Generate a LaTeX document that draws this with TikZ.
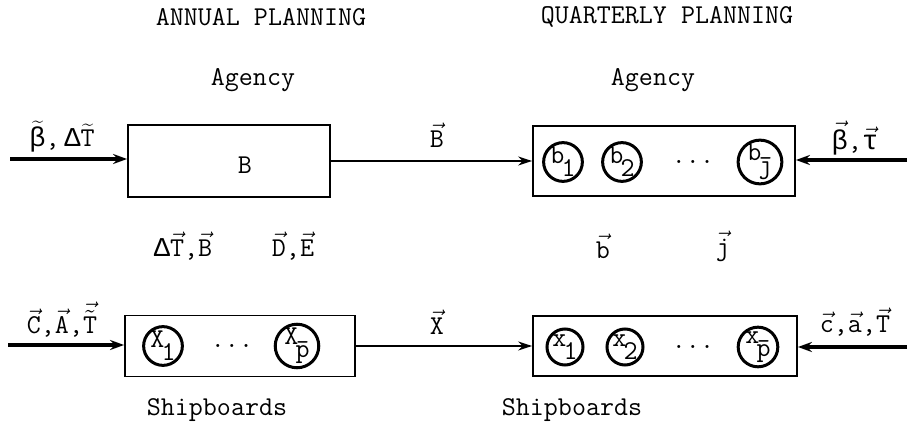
\documentclass[tikz,border=0pt]{standalone}
\usepackage{fontspec}
\newfontfamily\gk{Liberation Mono}
\usetikzlibrary{arrows.meta}
\newcommand\vv[1]{\ensuremath{\vec{\mbox{#1}}}}
\newcommand\tl[1]{\ensuremath{\widetilde{\mbox{#1}}}}
\newcommand\sub[2]{\raisebox{0.35ex}{#1}\kern-0.1em\raisebox{-0.75ex}{#2}}
\begin{document}
\begin{tikzpicture}[x=0.5pt,y=-0.5pt,
  every node/.style={font=\ttfamily\fontsize{13.6}{15}\selectfont},
  box/.style={draw,line width=0.9pt,inner sep=0pt},
  cell/.style={draw,circle,line width=1.5pt,minimum size=18pt,inner sep=0pt},
  inarrow/.style={line width=1.8pt,-{Stealth[length=7pt,width=5pt]}},
  midarrow/.style={line width=1pt,-{Stealth[length=7pt,width=4.5pt]}},
  lbl/.style={inner sep=0pt}]
\useasboundingbox (0,0) rectangle (918,443);
% headings
\node[lbl] (h1) at (261,17) {ANNUAL PLANNING};
\node[lbl] (h2) at (667,17) {QUARTERLY PLANNING};
\node[lbl] (ag1) at (253,80) {Agency};
\node[lbl] (ag2) at (653,80) {Agency};
\node[lbl] (sh1) at (217,410) {Shipboards};
\node[lbl] (sh2) at (572,410) {Shipboards};
% boxes
\node[box,minimum width=101pt,minimum height=36pt] (boxB) at (229,161) {};
\node[lbl] (Blab) at (245,165) {B};
\node[box,minimum width=131pt,minimum height=35pt] (boxQ) at (664,161) {};
\node[box,minimum width=115pt,minimum height=30.5pt] (boxX) at (240,346) {};
\node[box,minimum width=132pt,minimum height=30pt] (boxS) at (665,346) {};
% circles top right
\node[cell] (b1) at (563,162) {\sub{b}{1}};
\node[cell] (b2) at (622,162) {\sub{b}{2}};
\node[lbl] (bd) at (693,162) {...};
\node[cell] (bj) at (760,162) {\sub{b}{\=\j}};
% circles bottom left
\node[cell] (x1) at (163,346) {\sub{X}{1}};
\node[lbl] (xd) at (232,346) {...};
\node[cell] (xp) at (297,346) {\sub{X}{\=p}};
% circles bottom right
\node[cell] (y1) at (565,347) {\sub{x}{1}};
\node[cell] (y2) at (625,347) {\sub{x}{2}};
\node[lbl] (yd) at (693,347) {...};
\node[cell] (yp) at (758,347) {\sub{x}{\=p}};
% arrows top
\coordinate (inB) at (10,159);
\draw[inarrow] (inB) -- (inB -| boxB.west);
\node[lbl] (inBl) at (62,137) {\tl{\gk β},\,{\gk Δ}\tl{T}};
\draw[midarrow] (boxB.east) -- (boxQ.west);
\node[lbl] (Bvec) at (437,135) {\vv{B}};
\coordinate (inQ) at (907,160);
\draw[inarrow] (inQ) -- (inQ -| boxQ.east);
\node[lbl] (inQl) at (855,138) {\vv{\gk β},\vv{\gk τ}};
% middle labels
\node[lbl] (m1) at (183,246) {{\gk Δ}\vv{T},\vv{B}};
\node[lbl] (m2) at (293,246) {\vv{D},\vv{E}};
\node[lbl] (m3) at (603,246) {\vv{b}};
\node[lbl] (m4) at (723,246) {\vv{j}};
% arrows bottom
\coordinate (inX) at (8,345);
\draw[inarrow] (inX) -- (inX -| boxX.west);
\node[lbl] (inXl) at (62,320) {\vv{C},\vv{A},\ensuremath{\vec{\tilde{\mbox{T}}}}};
\draw[midarrow] (boxX.east) -- (boxS.west);
\node[lbl] (Xvec) at (437,322) {\vv{X}};
\coordinate (inS) at (907,347);
\draw[inarrow] (inS) -- (inS -| boxS.east);
\node[lbl] (inSl) at (855,322) {\vv{c},\vv{a},\vv{T}};
\end{tikzpicture}
\end{document}
